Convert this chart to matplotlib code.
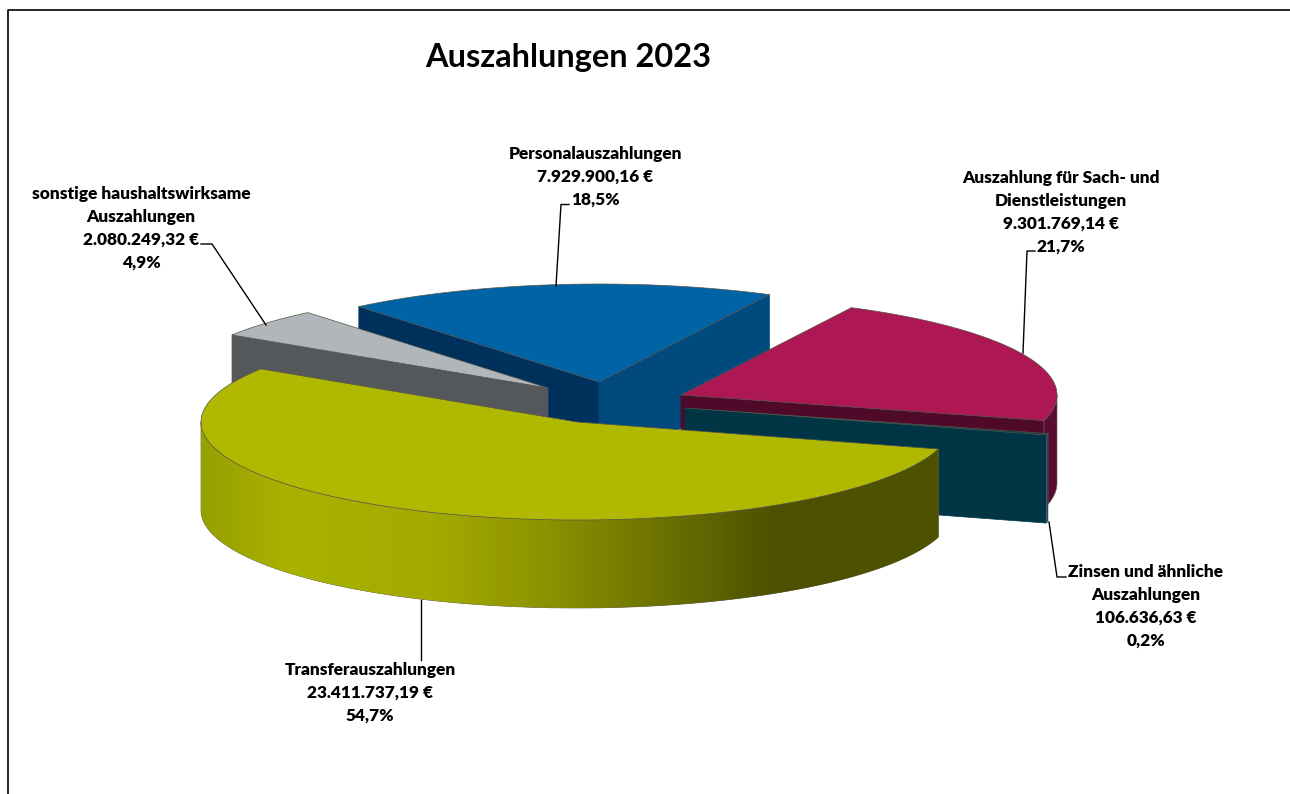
import matplotlib
matplotlib.use("Agg")
import matplotlib.pyplot as plt
import numpy as np
from matplotlib.colors import LinearSegmentedColormap
from matplotlib.patches import Polygon

plt.rcParams['font.family'] = ['Lato', 'DejaVu Sans']

# data, clockwise starting from the blue slice
names = ["Personalauszahlungen", "Auszahlung für Sach- und\nDienstleistungen",
         "Zinsen und ähnliche\nAuszahlungen", "Transferauszahlungen",
         "sonstige haushaltswirksame\nAuszahlungen"]
amounts = [7929900.16, 9301769.14, 106636.63, 23411737.19, 2080249.32]
amount_labels = ["7.929.900,16 €", "9.301.769,14 €", "106.636,63 €", "23.411.737,19 €", "2.080.249,32 €"]
percent_labels = ["18,5%", "21,7%", "0,2%", "54,7%", "4,9%"]

# look of each slice
top_colors = ["#0063a6", "#ad1753", "#003a48", "#b0b900", "#b1b6bb"]
start_colors = ["#00315c", "#4f0a2a", "#003545", "#4a4d00", "#54585b"]
end_colors = ["#004a7e", "#4f0a2a", "#003545", "#4a4d00", "#54585b"]
side_colors = ["#004a7e", "#5a0c30", "#003545", "#4a4d00", "#54585b"]
apex_x = [599, 681, 685, 577, 548]
apex_y = [382, 395, 408, 422, 388]
draw_order = [0, 4, 1, 2, 3]

rx, ry, depth = 376, 98, 88
start_angle = -129.7

label_x = [595, 1061, 1146, 370, 141]
label_y = [177, 212, 606, 693, 228]
leaders = [([556, 561, 569], [286, 204.5, 204.5]),
           ([1023, 1027, 1035], [353, 251, 251]),
           ([1049, 1057, 1066], [522, 577, 577]),
           ([421, 421], [600, 660]),
           ([266, 212, 201], [325, 244, 244])]

fig = plt.figure(figsize=(12.9, 7.94), dpi=100)
ax = fig.add_axes([0, 0, 1, 1])

fractions = np.array(amounts) / sum(amounts)
edges = start_angle + np.concatenate(([0], np.cumsum(fractions))) * 360

yellow_map = LinearSegmentedColormap.from_list("side", [(0, "#98a000"), (0.115, "#a9b200"), (0.31, "#a3ab00"),
                                                        (0.45, "#909600"), (0.61, "#6f7500"), (0.78, "#4d5000"),
                                                        (1, "#4f5200")])


def rim(cx, cy, a, b):
    t = np.radians(np.linspace(a, b, 200))
    return cx + rx * np.cos(t), cy + ry * np.sin(t)


def radial_face(cx, cy, angle, color):
    t = np.radians(angle)
    ox, oy = cx + rx * np.cos(t), cy + ry * np.sin(t)
    ax.add_patch(Polygon([(cx, cy), (ox, oy), (ox, oy + depth), (cx, cy + depth)],
                         facecolor=color, edgecolor=color, lw=0.5))


for i in draw_order:
    a, b = edges[i], edges[i + 1]
    cx, cy = apex_x[i], apex_y[i]

    if np.cos(np.radians(a)) < 0:
        radial_face(cx, cy, a, start_colors[i])
    if np.cos(np.radians(b)) > 0:
        radial_face(cx, cy, b, end_colors[i])

    # the curved wall, only the part turned to the viewer
    for k in (0, 360, -360):
        lo, hi = max(a, k), min(b, k + 180)
        if hi <= lo:
            continue
        x, y = rim(cx, cy, lo, hi)
        pts = np.r_[np.c_[x, y], np.c_[x[::-1], y[::-1] + depth]]
        wall = Polygon(pts, facecolor=side_colors[i], edgecolor="#666666", lw=0.5)
        ax.add_patch(wall)
        if i == 3:
            grad = np.linspace(0, 1, 400).reshape(1, -1)
            im = ax.imshow(grad, cmap=yellow_map, aspect="auto", zorder=1,
                           extent=(x.min(), x.max(), y.max() + depth, y.min()))
            im.set_clip_path(wall)

    x, y = rim(cx, cy, a, b)
    ax.add_patch(Polygon(np.r_[[[cx, cy]], np.c_[x, y]], facecolor=top_colors[i],
                         edgecolor="#55554a", lw=0.5, zorder=1))

for lx, ly in leaders:
    ax.plot(lx, ly, color="black", lw=1, zorder=3)

for i in range(len(names)):
    ax.text(label_x[i], label_y[i], names[i] + "\n" + amount_labels[i] + "\n" + percent_labels[i],
            ha="center", va="center", fontsize=12.4, fontweight="heavy", linespacing=1.53, zorder=4)

ax.text(568, 57, "Auszahlungen 2023", ha="center", va="center", fontsize=23.4, fontweight="bold")

# chart frame, cut off on the right and at the bottom
ax.plot([8, 8, 1290], [794, 10, 10], color="black", lw=1.2, zorder=5)

ax.set_xlim(0, 1290)
ax.set_ylim(794, 0)
ax.axis("off")
fig.savefig("out.png", dpi=100, facecolor="white")
